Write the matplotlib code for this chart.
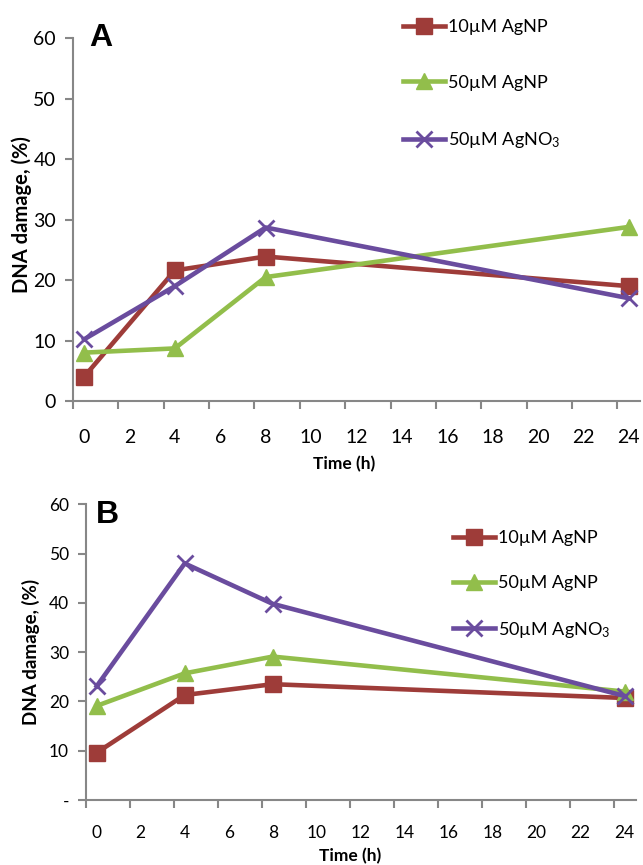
import matplotlib
matplotlib.use('Agg')
import matplotlib.pyplot as plt
from matplotlib.ticker import FixedLocator, FixedFormatter

plt.rcParams['font.family'] = ['Lato', 'DejaVu Sans']
plt.rcParams['mathtext.fontset'] = 'custom'
plt.rcParams['mathtext.rm'] = 'Lato'
plt.rcParams['mathtext.it'] = 'Lato:italic'
plt.rcParams['mathtext.bf'] = 'Lato:bold'

# 数据
time_h = [0, 4, 8, 24]
labels = ["10µM AgNP", "50µM AgNP", "50µM AgNO$_3$"]

a_10np = [4.0, 21.6, 23.9, 19.0]
a_50np = [8.0, 8.7, 20.5, 28.8]
a_50no3 = [10.2, 19.0, 28.7, 17.0]

b_10np = [9.6, 21.3, 23.5, 20.7]
b_50np = [19.1, 25.7, 29.1, 22.0]
b_50no3 = [23.1, 48.0, 39.8, 21.1]

x_ticks = list(range(0, 25, 2))
y_ticks = [0, 10, 20, 30, 40, 50, 60]
y_labels_a = [str(v) for v in y_ticks]
y_labels_b = ["-"] + [str(v) for v in y_ticks[1:]]

colors = ["#9E3C39", "#92BE4B", "#6A4C9E"]
markers = ["s", "^", "x"]
spine_c = "#878787"

W, H = 643, 865
fig = plt.figure(figsize=(W / 100, H / 100), dpi=100)


def px_axes(left, top, right, bottom):
    return fig.add_axes([left / W, 1 - bottom / H, (right - left) / W, (bottom - top) / H])


def draw(ax, series, ylabels, cfg):
    for vals, lab, c, m in zip(series, labels, colors, markers):
        ax.plot(time_h, vals, color=c, lw=3.3, marker=m, markersize=11,
                markeredgewidth=2 if m == "x" else 1, label=lab, clip_on=False)

    ax.set_xlim(-0.5, 24.5)
    ax.set_ylim(0, 60)
    for s in ["top", "right"]:
        ax.spines[s].set_visible(False)
    for s in ["left", "bottom"]:
        ax.spines[s].set_color(spine_c)
        ax.spines[s].set_linewidth(1.5)
    # 标签在偶数位置，刻度线在两类别之间
    ax.xaxis.set_major_locator(FixedLocator(x_ticks))
    ax.xaxis.set_major_formatter(FixedFormatter([str(v) for v in x_ticks]))
    ax.xaxis.set_minor_locator(FixedLocator([v - 0.5 for v in x_ticks]))
    ax.tick_params(axis="x", which="major", length=0, pad=cfg["xpad"], labelsize=cfg["tick_fs"])
    ax.tick_params(axis="x", which="minor", length=6, width=1.5, color=spine_c, direction="out")
    ax.set_yticks(y_ticks)
    ax.set_yticklabels(ylabels)
    ax.tick_params(axis="y", length=6, width=1.5, color=spine_c, labelsize=cfg["tick_fs"], pad=6)

    ax.set_xlabel("Time (h)", fontsize=12.5, fontweight="bold")
    ax.xaxis.set_label_coords(*cfg["xlab"])
    ax.xaxis.label.set_va("center")
    ax.set_ylabel("DNA damage, (%)", fontsize=cfg["ylab_fs"], fontweight="bold")
    ax.yaxis.set_label_coords(*cfg["ylab"])
    ax.yaxis.label.set_va("center")

    lx, ly = cfg["letter_xy"]
    fig.text(lx / W, 1 - ly / H, cfg["letter"], fontsize=23, fontweight="bold",
             family="Liberation Sans", ha="center", va="center")
    ax_x, ax_y = cfg["legend"]
    ax.legend(loc="upper left", bbox_to_anchor=(ax_x / W, 1 - ax_y / H),
              bbox_transform=fig.transFigure, frameon=False, fontsize=13,
              labelspacing=cfg["spacing"], handlelength=2.3, handletextpad=0.2,
              borderpad=0, borderaxespad=0)


ax_a = px_axes(72.7, 38.3, 640.2, 401)
draw(ax_a, [a_10np, a_50np, a_50no3], y_labels_a, {
    "xpad": 20, "tick_fs": 14, "ylab_fs": 14.5,
    "xlab": (0.478, -(464 - 401) / 362.7),
    "ylab": (-(72.7 - 22) / 567.5, (401 - 215) / 362.7),
    "letter": "A", "letter_xy": (101, 38),
    "legend": (403, 19), "spacing": 2.2,
})

ax_b = px_axes(85.7, 504.3, 635.7, 800)
draw(ax_b, [b_10np, b_50np, b_50no3], y_labels_b, {
    "xpad": 18, "tick_fs": 12.5, "ylab_fs": 13.5,
    "xlab": (0.4805, -(856 - 800) / 295.7),
    "ylab": (-(85.7 - 31) / 550, (800 - 652) / 295.7),
    "letter": "B", "letter_xy": (107, 515),
    "legend": (453, 530), "spacing": 1.6,
})

fig.savefig("out.png", dpi=100)
